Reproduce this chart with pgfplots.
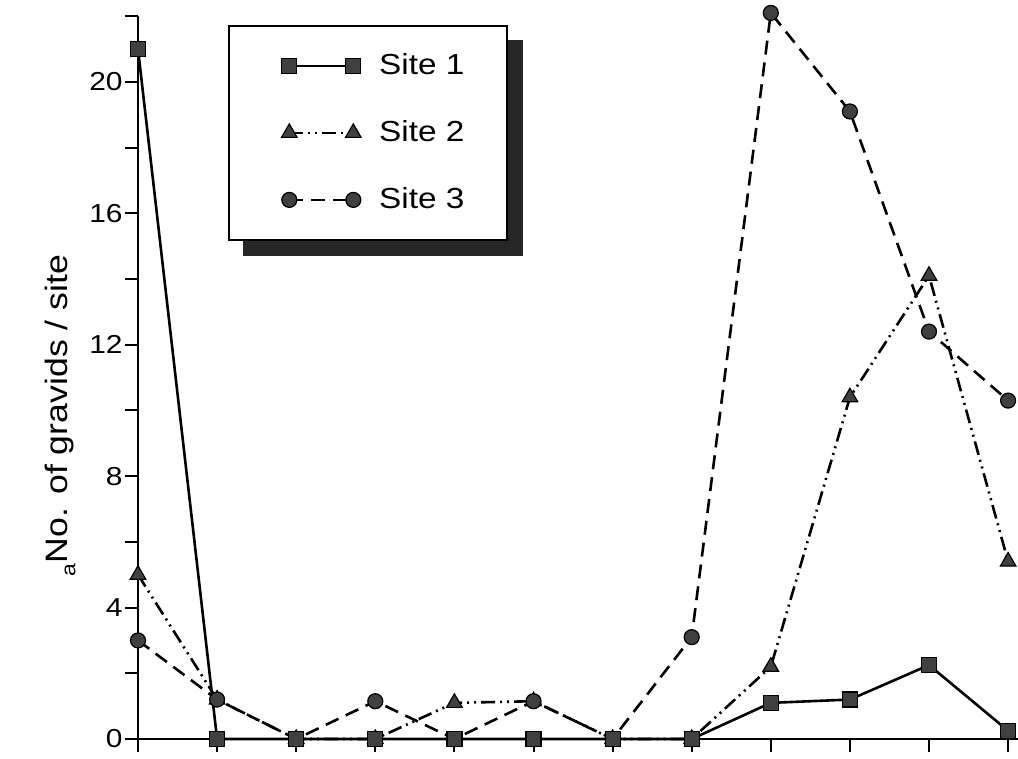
\documentclass[border=0pt]{standalone}
\usepackage{pgfplots}
\pgfplotsset{compat=1.18}
\usepackage{pgfplotstable}
\usepackage{fontspec}
\setmainfont[FakeStretch=1.15]{Liberation Sans}
\usetikzlibrary{backgrounds}

\definecolor{markfill}{gray}{0.25}
\definecolor{shadowgray}{gray}{0.15}

% gravid counts per sampling date, three sites
\pgfplotstableread{
x  s1    s2    s3
0  21    5     3
1  0     1.2   1.2
2  0     0     0
3  0     0     1.15
4  0     1.1   0
5  0     1.15  1.15
6  0     0     0
7  0     0     3.1
8  1.1   2.2   22.1
9  1.2   10.4  19.1
10 2.25  14.1  12.4
11 0.25  5.4   10.3
}\gravids

\begin{document}
\begin{tikzpicture}
\begin{axis}[
  at={(0,0)}, anchor=south west,
  scale only axis, width=440pt, height=361.4pt,
  xmin=0, xmax=11.125, ymin=0, ymax=22,
  axis x line=bottom, axis y line=left,
  axis line style={-, line width=1pt},
  xtick={0,...,11}, xticklabels={},
  ytick={0,2,...,22}, yticklabels={0,,4,,8,,12,,16,,20,},
  tick align=outside, major tick length=6.5pt,
  tick style={line width=1pt, black},
  ticklabel style={font=\fontsize{13}{15}\selectfont},
  yticklabel style={inner xsep=1pt},
  /pgf/number format/assume math mode=true,
  clip=false,
  ylabel={\raisebox{-0.5ex}{\fontsize{10}{12}\selectfont a}No. of gravids / site},
  ylabel style={at={(axis description cs:-0.0886,0.4475)}, anchor=center,
    font=\fontsize{15.5}{18}\selectfont},
  legend style={name=sitelegend,
    at={(axis description cs:0.1023,0.988)}, anchor=north west,
    draw=black, line width=1pt, fill=white,
    font=\fontsize{14.5}{17}\selectfont,
    row sep=17.5pt, inner xsep=19.5pt, inner ysep=12pt,
    /tikz/every odd column/.append style={column sep=7pt}},
  legend cell align=left,
  legend image code/.code={%
    \path (0pt,0pt);
    \draw plot coordinates {(10pt,0pt) (42pt,0pt)};},
]
\addplot[black, line width=1.3pt, mark=square*, mark size=3.75pt,
  mark options={solid, fill=markfill, draw=black, line width=0.6pt}]
  table[x=x, y=s1] {\gravids};
\addlegendentry{Site 1}
\addplot[black, line width=1.3pt,
  dash pattern=on 7pt off 2.5pt on 1pt off 2.5pt on 1pt off 2.5pt,
  mark=triangle*, mark size=4.5pt,
  mark options={solid, fill=markfill, draw=black, line width=0.6pt}]
  table[x=x, y=s2] {\gravids};
\addlegendentry{Site 2}
\addplot[black, line width=1.3pt, dash pattern=on 7pt off 4pt,
  mark=*, mark size=3.75pt,
  mark options={solid, fill=markfill, draw=black, line width=0.6pt}]
  table[x=x, y=s3] {\gravids};
\addlegendentry{Site 3}
% squares drawn again so they sit on top of the zero-level marks
\addplot[forget plot, only marks, mark=square*, mark size=3.75pt,
  mark options={solid, fill=markfill, draw=black, line width=0.6pt}]
  table[x=x, y=s1] {\gravids};
\end{axis}
% offset shadow behind the legend box
\begin{pgfonlayer}{background}
  \fill[shadowgray] ([xshift=7.5pt,yshift=-7.5pt]sitelegend.south west)
    rectangle ([xshift=7.5pt,yshift=-7.5pt]sitelegend.north east);
\end{pgfonlayer}
\pgfresetboundingbox
\path[use as bounding box] (-69pt,-10pt) rectangle (440pt,369.5pt);
\end{tikzpicture}
\end{document}
